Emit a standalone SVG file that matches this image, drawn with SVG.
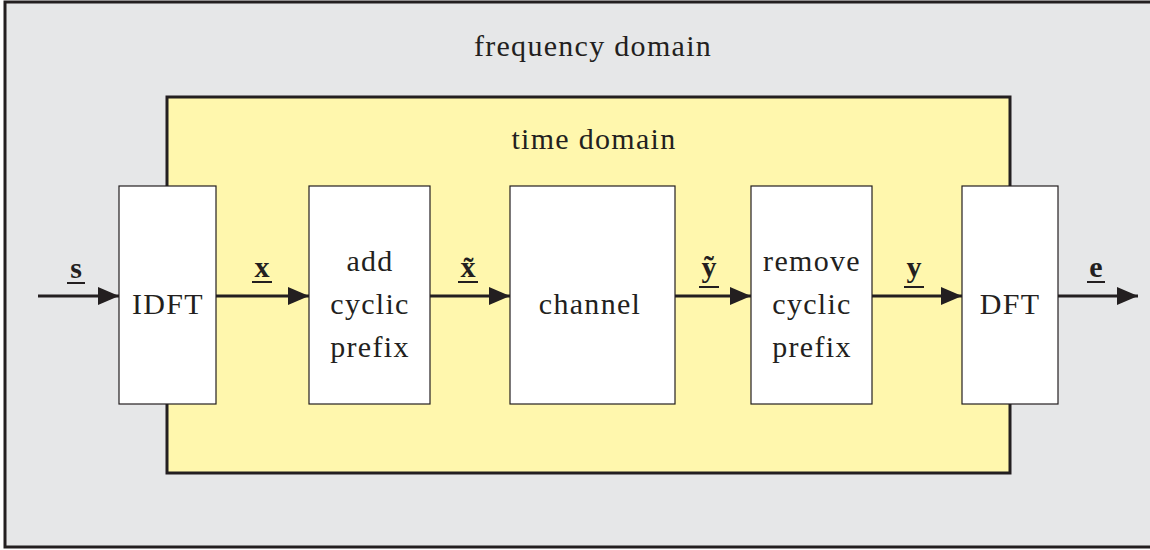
<svg xmlns="http://www.w3.org/2000/svg" width="1150" height="550" viewBox="0 0 1150 550">
  <defs>
    <marker id="arrow" markerWidth="21" markerHeight="18" refX="21" refY="9" orient="auto" markerUnits="userSpaceOnUse" viewBox="0 0 21 18">
      <path d="M0,0 L21,9 L0,18 Z" fill="#231f20"/>
    </marker>
    <style>
      .frame { fill: #e6e7e8; stroke: #231f20; stroke-width: 3; }
      .zone { fill: #fff7ad; stroke: #231f20; stroke-width: 3; }
      .block { fill: #ffffff; stroke: #231f20; stroke-width: 1.2; }
      .lbl { font-family: "Liberation Serif", "DejaVu Serif", serif; font-size: 30px; letter-spacing: 1.3px; fill: #231f20; text-anchor: middle; }
      .sig { font-family: "Liberation Serif", "DejaVu Serif", serif; font-size: 30px; font-weight: bold; fill: #231f20; text-anchor: middle; }
      .bar { stroke: #231f20; stroke-width: 2; }
      .wire { stroke: #231f20; stroke-width: 3; fill: none; marker-end: url(#arrow); }
    </style>
  </defs>

  <!-- outer frequency-domain frame -->
  <g id="frequency-domain">
    <rect class="frame" x="5" y="2" width="1150" height="545"/>
    <text class="lbl" x="593" y="56">frequency domain</text>
  </g>

  <!-- inner time-domain region -->
  <g id="time-domain">
    <rect class="zone" x="167" y="97" width="843" height="376"/>
    <text class="lbl" x="594" y="149">time domain</text>
  </g>

  <g id="idft">
    <rect class="block" x="119" y="186" width="97" height="218"/>
    <text class="lbl" x="168" y="314">IDFT</text>
  </g>

  <g id="add-cp">
    <rect class="block" x="309" y="186" width="121" height="218"/>
    <text class="lbl" x="370" y="271">add</text>
    <text class="lbl" x="370" y="314">cyclic</text>
    <text class="lbl" x="370" y="357">prefix</text>
  </g>

  <g id="channel">
    <rect class="block" x="510" y="186" width="165" height="218"/>
    <text class="lbl" x="590" y="314">channel</text>
  </g>

  <g id="remove-cp">
    <rect class="block" x="751" y="186" width="121" height="218"/>
    <text class="lbl" x="812" y="271">remove</text>
    <text class="lbl" x="812" y="314">cyclic</text>
    <text class="lbl" x="812" y="357">prefix</text>
  </g>

  <g id="dft">
    <rect class="block" x="962" y="186" width="96" height="218"/>
    <text class="lbl" x="1010" y="314">DFT</text>
  </g>

  <!-- signal connectors with underlined vector labels -->
  <g id="connectors">
    <line class="wire" x1="38" y1="296" x2="119" y2="296"/>
    <line class="wire" x1="216" y1="296" x2="309" y2="296"/>
    <line class="wire" x1="430" y1="296" x2="510" y2="296"/>
    <line class="wire" x1="675" y1="296" x2="751" y2="296"/>
    <line class="wire" x1="872" y1="296" x2="962" y2="296"/>
    <line class="wire" x1="1058" y1="296" x2="1138" y2="296"/>

    <text class="sig" x="76" y="278">s</text>
    <line class="bar" x1="67" y1="283" x2="85" y2="283"/>
    <text class="sig" x="262" y="277">x</text>
    <line class="bar" x1="252" y1="282" x2="272" y2="282"/>
    <text class="sig" x="468" y="277">x̃</text>
    <line class="bar" x1="458" y1="282" x2="478" y2="282"/>
    <text class="sig" x="709" y="277">ỹ</text>
    <line class="bar" x1="699" y1="287" x2="719" y2="287"/>
    <text class="sig" x="914" y="277">y</text>
    <line class="bar" x1="904" y1="287" x2="924" y2="287"/>
    <text class="sig" x="1096" y="277">e</text>
    <line class="bar" x1="1087" y1="282" x2="1105" y2="282"/>
  </g>
</svg>
